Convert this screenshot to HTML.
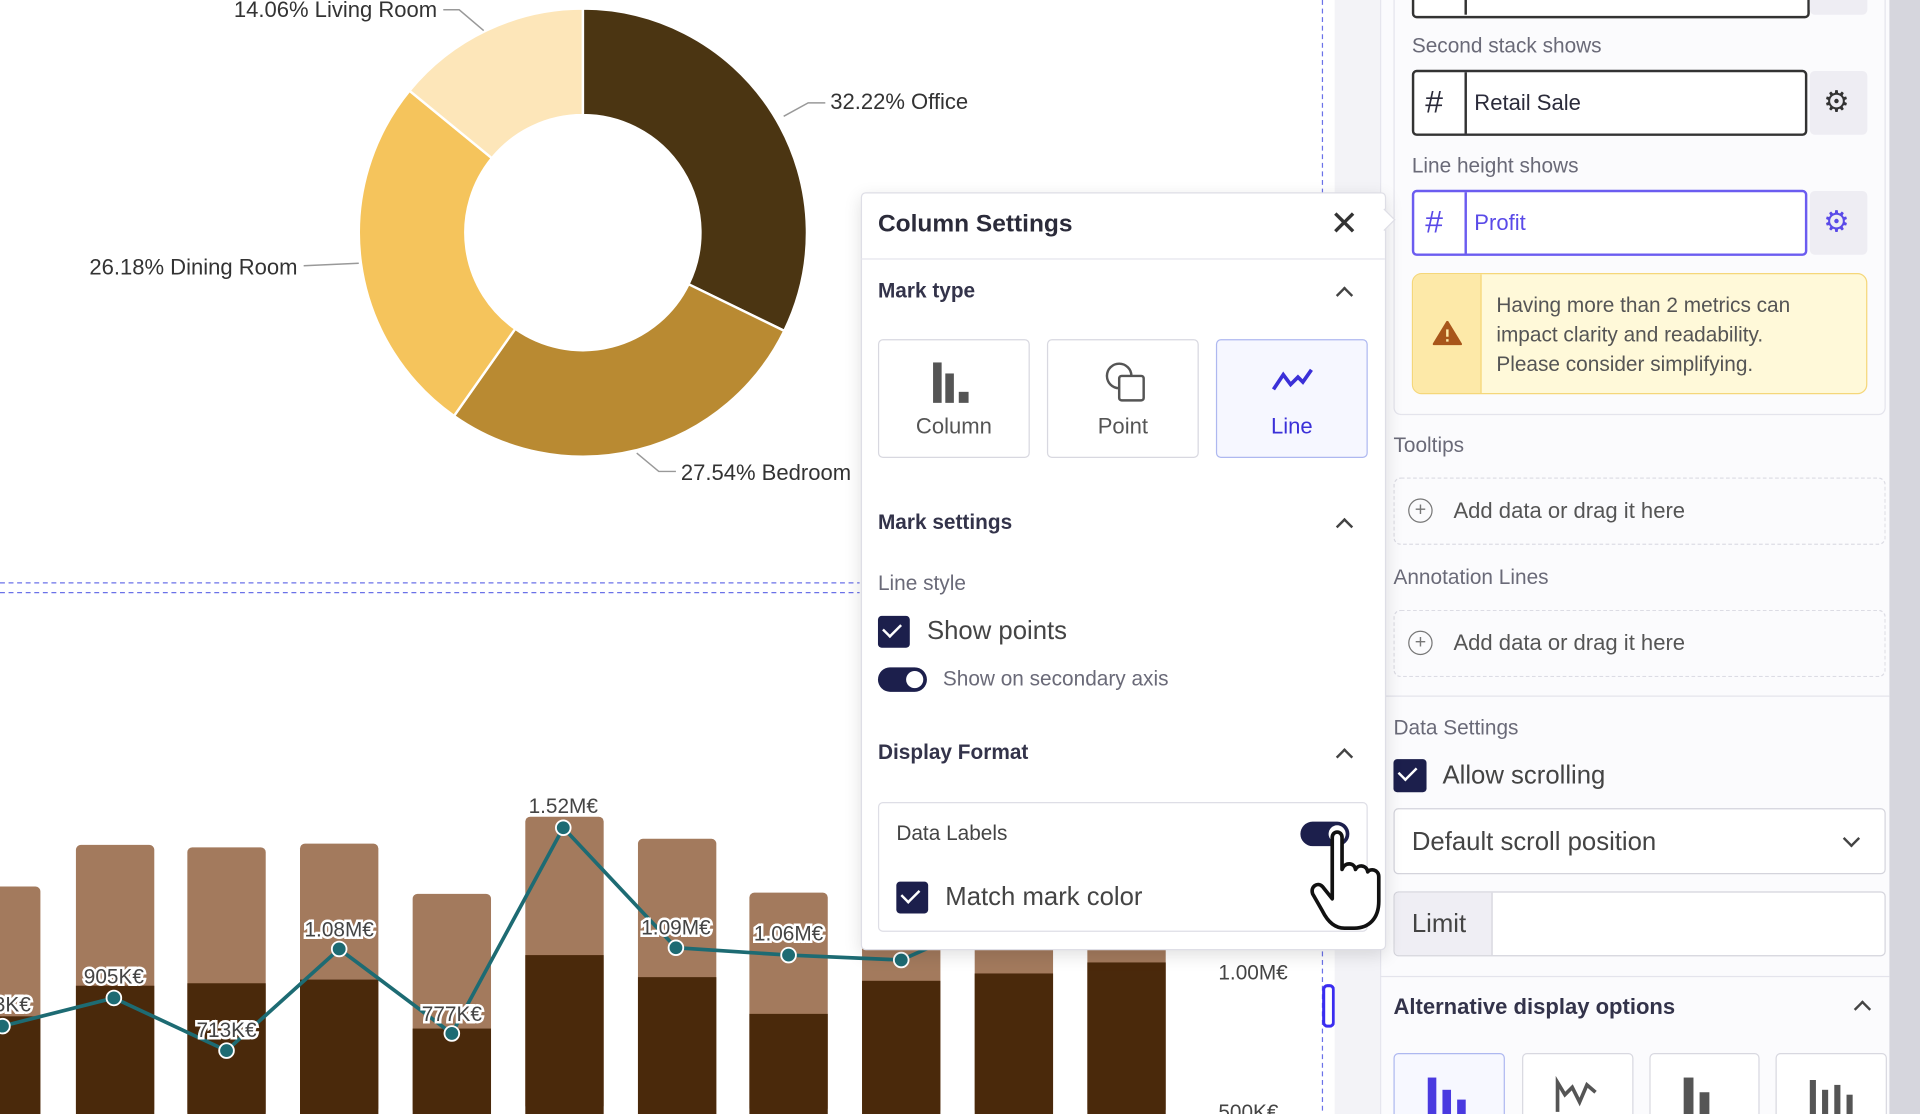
<!DOCTYPE html>
<html><head><meta charset="utf-8"><style>
html,body{margin:0;padding:0;width:1920px;height:1114px;overflow:hidden;background:#fff}
#w{position:absolute;left:0;top:0;width:1568px;height:910px;transform:scale(1.22449);transform-origin:0 0;font-family:"Liberation Sans",sans-serif;color:#2b2b3a;background:#fff;overflow:hidden}
.a{position:absolute}
.t{position:absolute;white-space:nowrap}
.h{font-size:17px;font-weight:bold;color:#33334a}
.g{font-size:17px;color:#6a6a78}
.cb{position:absolute;background:#1c1f4c;border-radius:3px}
.cb:after{content:"";position:absolute;left:7px;top:3px;width:7px;height:12px;border:solid #fff;border-width:0 2.5px 2.5px 0;transform:rotate(45deg)}
.chev{position:absolute;width:8px;height:8px;border:solid #444;border-width:2px 0 0 2px;transform:rotate(45deg)}
.tg{position:absolute;background:#1c1f4c;border-radius:11px}
.tg:after{content:"";position:absolute;right:3px;top:3px;background:#fff;border-radius:50%;width:14px;height:14px}
.btn{position:absolute;border:1px solid #d8d8e0;border-radius:4px;background:#fff;text-align:center;font-size:18px;color:#555}
.dash{position:absolute;border:1.5px dashed #dcdce4;border-radius:6px}
.pl{position:absolute;width:18px;height:18px;border:1.5px solid #777;border-radius:50%;font-size:16px;line-height:18px;text-align:center;color:#777}
</style></head><body><div id="w">
<svg class="a" style="left:0;top:0" width="1568" height="910">
<g stroke="#fff" stroke-width="2">
<path d="M476,7 A183,183 0 0 1 640.5,270.2 L562.3,232.1 A96,96 0 0 0 476,94 Z" fill="#4b3512"/>
<path d="M640.5,270.2 A183,183 0 0 1 370.8,339.7 L420.8,268.5 A96,96 0 0 0 562.3,232.1 Z" fill="#b98a32"/>
<path d="M370.8,339.7 A183,183 0 0 1 334.4,74.1 L401.7,129.2 A96,96 0 0 0 420.8,268.5 Z" fill="#f5c45c"/>
<path d="M334.4,74.1 A183,183 0 0 1 476,7 L476,94 A96,96 0 0 0 401.7,129.2 Z" fill="#fde6b9"/>
</g>
<g stroke="#999" fill="none" stroke-width="1.2">
<path d="M640,95 L660,84 L674,84"/><path d="M520,370 L538,385 L552,385"/><path d="M293,215 L248,217"/><path d="M395,25 L375,8 L362,8"/>
</g>
<g font-size="18" fill="#333">
<text x="678" y="89">32.22% Office</text><text x="556" y="392">27.54% Bedroom</text>
<text x="243" y="224" text-anchor="end">26.18% Dining Room</text><text x="357" y="14" text-anchor="end">14.06% Living Room</text>
</g>
<g stroke="#6b72e8" stroke-dasharray="4,3" stroke-width="1"><path d="M0,476 H702 M0,484 H702"/><path d="M1080,0 V910"/></g>
<g fill="#a37a5d">
<rect x="-30" y="724" width="63" height="190" rx="4"/><rect x="62" y="690" width="64" height="220" rx="4"/><rect x="153" y="692" width="64" height="220" rx="4"/><rect x="245" y="689" width="64" height="220" rx="4"/><rect x="337" y="730" width="64" height="180" rx="4"/><rect x="429" y="667" width="64" height="240" rx="4"/><rect x="521" y="685" width="64" height="230" rx="4"/><rect x="612" y="729" width="64" height="180" rx="4"/><rect x="704" y="760" width="64" height="150" rx="4"/><rect x="796" y="760" width="64" height="150" rx="4"/><rect x="888" y="760" width="64" height="150" rx="4"/>
</g>
<g fill="#4a290b">
<rect x="-30" y="830" width="63" height="80"/><rect x="62" y="805" width="64" height="105"/><rect x="153" y="803" width="64" height="107"/><rect x="245" y="800" width="64" height="110"/><rect x="337" y="840" width="64" height="70"/><rect x="429" y="780" width="64" height="130"/><rect x="521" y="798" width="64" height="112"/><rect x="612" y="828" width="64" height="82"/><rect x="704" y="801" width="64" height="109"/><rect x="796" y="795" width="64" height="115"/><rect x="888" y="786" width="64" height="124"/>
</g>
<polyline points="2,838 93,815 185,858 277,775 369,844 460,676 552,774 644,780 736,784 790,760" fill="none" stroke="#1d6b73" stroke-width="3"/>
<g fill="#1d6b73" stroke="#fff" stroke-width="1.5">
<circle cx="2" cy="838" r="6"/><circle cx="93" cy="815" r="6"/><circle cx="185" cy="858" r="6"/><circle cx="277" cy="775" r="6"/><circle cx="369" cy="844" r="6"/><circle cx="460" cy="676" r="6"/><circle cx="552" cy="774" r="6"/><circle cx="644" cy="780" r="6"/><circle cx="736" cy="784" r="6"/>
</g>
<g font-size="17" fill="#444" stroke="#fff" stroke-width="4" paint-order="stroke" text-anchor="middle">
<text x="10" y="826">3K€</text><text x="93" y="803">905K€</text><text x="185" y="847">713K€</text><text x="277" y="765">1.08M€</text><text x="369" y="834">777K€</text><text x="460" y="664">1.52M€</text><text x="552" y="763">1.09M€</text><text x="644" y="768">1.06M€</text>
</g>
<g font-size="17" fill="#444"><text x="995" y="800">1.00M€</text><text x="995" y="914">500K€</text></g>
<rect x="1081" y="805" width="8" height="33" rx="3" fill="#fff" stroke="#3a2cf0" stroke-width="2.5"/>
</svg>

<div class="a" style="left:1090px;top:0;width:37px;height:910px;background:#f3f3f7"></div>
<div class="a" style="left:1127px;top:0;width:416px;height:910px;background:#fbfbfd;border-left:1px solid #e6e6ee"></div>
<div class="a" style="left:1543px;top:0;width:25px;height:910px;background:#d6d6dd"></div>
<div class="a" style="left:1138px;top:-10px;width:400px;height:347px;border:1px solid #e4e4ec;border-radius:6px"></div>
<div class="a" style="left:1153px;top:-10px;width:321px;height:21px;border:2px solid #333;border-radius:4px;background:#fff"></div>
<div class="a" style="left:1196px;top:-10px;width:2px;height:22px;background:#333"></div>
<div class="a" style="left:1478px;top:-10px;width:47px;height:22px;background:#eeedf3;border-radius:4px"></div>
<div class="t g" style="left:1153px;top:28px">Second stack shows</div>
<div class="a" style="left:1153px;top:57px;width:319px;height:50px;border:2px solid #333;border-radius:4px;background:#fff"></div>
<div class="a" style="left:1196px;top:59px;width:2px;height:50px;background:#333"></div>
<div class="t" style="left:1164px;top:68px;font-size:26px">#</div>
<div class="t" style="left:1204px;top:74px;font-size:18px">Retail Sale</div>
<div class="a" style="left:1478px;top:58px;width:47px;height:52px;background:#eeedf3;border-radius:4px"></div>
<div class="t" style="left:1489px;top:69px;font-size:24px;color:#333">⚙</div>
<div class="t g" style="left:1153px;top:126px">Line height shows</div>
<div class="a" style="left:1153px;top:155px;width:319px;height:50px;border:2px solid #6b5cf0;border-radius:4px;background:#fff"></div>
<div class="a" style="left:1196px;top:157px;width:2px;height:50px;background:#6b5cf0"></div>
<div class="t" style="left:1164px;top:166px;font-size:26px;color:#5a4ae8">#</div>
<div class="t" style="left:1204px;top:172px;font-size:18px;color:#5a4ae8">Profit</div>
<div class="a" style="left:1478px;top:156px;width:47px;height:52px;background:#eeedf3;border-radius:4px"></div>
<div class="t" style="left:1489px;top:167px;font-size:24px;color:#5a4ae8">⚙</div>
<div class="a" style="left:1153px;top:223px;width:370px;height:97px;background:#fff9d9;border:1.5px solid #f5d77a;border-radius:8px;overflow:hidden">
<div class="a" style="left:0;top:0;width:55px;height:97px;background:#fde9a8;border-right:1.5px solid #f5d77a"></div>
<svg class="a" style="left:16px;top:38px" width="24" height="20"><path d="M12,1 L23,19 L1,19 Z" fill="#a8561a" stroke="#a8561a" stroke-linejoin="round" stroke-width="2"/><rect x="11" y="7" width="2" height="6" fill="#fde9a8"/><rect x="11" y="15" width="2" height="2" fill="#fde9a8"/></svg>
<div class="a" style="left:68px;top:14px;font-size:17px;line-height:24px;color:#555">Having more than 2 metrics can<br>impact clarity and readability.<br>Please consider simplifying.</div></div>
<div class="t g" style="left:1138px;top:354px">Tooltips</div>
<div class="dash" style="left:1138px;top:390px;width:400px;height:53px"></div>
<div class="pl" style="left:1150px;top:407px">+</div>
<div class="t" style="left:1187px;top:407px;font-size:18px;color:#555">Add data or drag it here</div>
<div class="t g" style="left:1138px;top:462px">Annotation Lines</div>
<div class="dash" style="left:1138px;top:498px;width:400px;height:53px"></div>
<div class="pl" style="left:1150px;top:515px">+</div>
<div class="t" style="left:1187px;top:515px;font-size:18px;color:#555">Add data or drag it here</div>
<div class="a" style="left:1127px;top:568px;width:416px;height:1px;background:#e4e4ec"></div>
<div class="t g" style="left:1138px;top:585px">Data Settings</div>
<div class="cb" style="left:1138px;top:620px;width:27px;height:27px"></div>
<div class="t" style="left:1178px;top:622px;font-size:21px;color:#444">Allow scrolling</div>
<div class="a" style="left:1138px;top:660px;width:400px;height:52px;border:1.5px solid #d4d4dc;border-radius:4px;background:#fff"></div>
<div class="t" style="left:1153px;top:676px;font-size:21px;color:#444">Default scroll position</div>
<div class="chev" style="left:1507px;top:680px;transform:rotate(225deg)"></div>
<div class="a" style="left:1138px;top:728px;width:400px;height:51px;border:1.5px solid #d4d4dc;border-radius:4px;background:#fff;overflow:hidden"><div class="a" style="left:0;top:0;width:79px;height:51px;background:#efeef4;border-right:1.5px solid #d4d4dc"></div></div>
<div class="t" style="left:1153px;top:743px;font-size:21px;color:#444">Limit</div>
<div class="a" style="left:1127px;top:797px;width:416px;height:1px;background:#e4e4ec"></div>
<div class="t h" style="left:1138px;top:812px;font-size:18px">Alternative display options</div>
<div class="chev" style="left:1516px;top:819px"></div>
<div class="btn" style="left:1138px;top:860px;width:89px;height:60px;border-color:#aeb8f0;background:#f7f8ff"></div>
<div class="btn" style="left:1243px;top:860px;width:89px;height:60px"></div>
<div class="btn" style="left:1347px;top:860px;width:88px;height:60px"></div>
<div class="btn" style="left:1450px;top:860px;width:89px;height:60px"></div>
<div class="a" style="left:1166px;top:880px;width:7px;height:30px;background:#4a3ae0"></div><div class="a" style="left:1178px;top:890px;width:7px;height:20px;background:#4a3ae0"></div><div class="a" style="left:1190px;top:898px;width:7px;height:12px;background:#4a3ae0"></div>
<div class="a" style="left:1375px;top:880px;width:8px;height:30px;background:#555"></div><div class="a" style="left:1388px;top:892px;width:8px;height:18px;background:#555"></div>
<svg class="a" style="left:1270px;top:878px" width="36" height="32"><polyline points="2,30 2,6 8,16 14,10 20,22 26,8 33,14" fill="none" stroke="#555" stroke-width="3"/></svg>
<div class="a" style="left:1478px;top:882px;width:5px;height:28px;background:#555"></div><div class="a" style="left:1488px;top:890px;width:5px;height:20px;background:#555"></div><div class="a" style="left:1498px;top:886px;width:5px;height:24px;background:#555"></div><div class="a" style="left:1508px;top:894px;width:5px;height:16px;background:#555"></div>

<div class="a" style="left:703px;top:157px;width:427px;height:617px;background:#fff;border:1px solid #dedee6;border-radius:4px;box-shadow:0 4px 14px rgba(0,0,0,.12)"></div>
<div class="a" style="left:1124px;top:173px;width:12px;height:12px;background:#fff;border-top:1px solid #dedee6;border-right:1px solid #dedee6;transform:rotate(45deg)"></div>
<div class="t" style="left:717px;top:172px;font-size:20px;font-weight:bold;color:#2b2b3a">Column Settings</div>
<div class="t" style="left:1086px;top:166px;font-size:28px;color:#333">✕</div>
<div class="a" style="left:703px;top:211px;width:428px;height:1px;background:#e4e4ec"></div>
<div class="t h" style="left:717px;top:228px">Mark type</div><div class="chev" style="left:1093px;top:236px"></div>
<div class="btn" style="left:717px;top:277px;width:122px;height:95px"><div class="a" style="left:44px;top:18px;width:7px;height:33px;background:#555"></div><div class="a" style="left:54px;top:27px;width:7px;height:24px;background:#555"></div><div class="a" style="left:65px;top:42px;width:8px;height:9px;background:#555"></div><div class="t" style="left:0;width:122px;top:60px">Column</div></div>
<div class="btn" style="left:855px;top:277px;width:122px;height:95px"><div class="a" style="left:47px;top:18px;width:18px;height:18px;border:2px solid #555;border-radius:50%"></div><div class="a" style="left:57px;top:28px;width:18px;height:18px;border:2px solid #555;border-radius:3px;background:#fff"></div><div class="t" style="left:0;width:122px;top:60px">Point</div></div>
<div class="btn" style="left:993px;top:277px;width:122px;height:95px;border-color:#aeb8f0;background:#f6f7ff;color:#3b30d8"><svg class="a" style="left:44px;top:22px" width="36" height="24"><polyline points="2,18 10,6 16,14 22,8 26,12 33,2" fill="none" stroke="#3b30d8" stroke-width="3"/></svg><div class="t" style="left:0;width:122px;top:60px">Line</div></div>
<div class="t h" style="left:717px;top:417px">Mark settings</div><div class="chev" style="left:1093px;top:425px"></div>
<div class="t g" style="left:717px;top:467px">Line style</div>
<div class="cb" style="left:717px;top:503px;width:26px;height:26px"></div>
<div class="t" style="left:757px;top:504px;font-size:21px;color:#444">Show points</div>
<div class="tg" style="left:717px;top:545px;width:40px;height:20px"></div>
<div class="t g" style="left:770px;top:545px">Show on secondary axis</div>
<div class="t h" style="left:717px;top:605px">Display Format</div><div class="chev" style="left:1093px;top:613px"></div>
<div class="a" style="left:717px;top:655px;width:398px;height:104px;border:1px solid #dedee6;border-radius:4px"></div>
<div class="t" style="left:732px;top:671px;font-size:17px;color:#444">Data Labels</div>
<div class="tg" style="left:1062px;top:671px;width:40px;height:20px"></div>
<div class="cb" style="left:732px;top:720px;width:26px;height:26px"></div>
<div class="t" style="left:772px;top:721px;font-size:21px;color:#444">Match mark color</div>
<svg class="a" style="left:1068px;top:676px" width="64" height="88"><path d="M20,8 C20,2 28,2 28,8 L28,34 C30,28 38,28 39,34 C41,30 48,30 49,36 C51,33 58,34 58,40 L58,60 C58,74 50,82 38,82 L30,82 C22,82 16,76 12,68 L4,54 C2,48 8,44 12,48 L20,58 Z" fill="#fff" stroke="#111" stroke-width="3" stroke-linejoin="round"/></svg>
</div></body></html>
